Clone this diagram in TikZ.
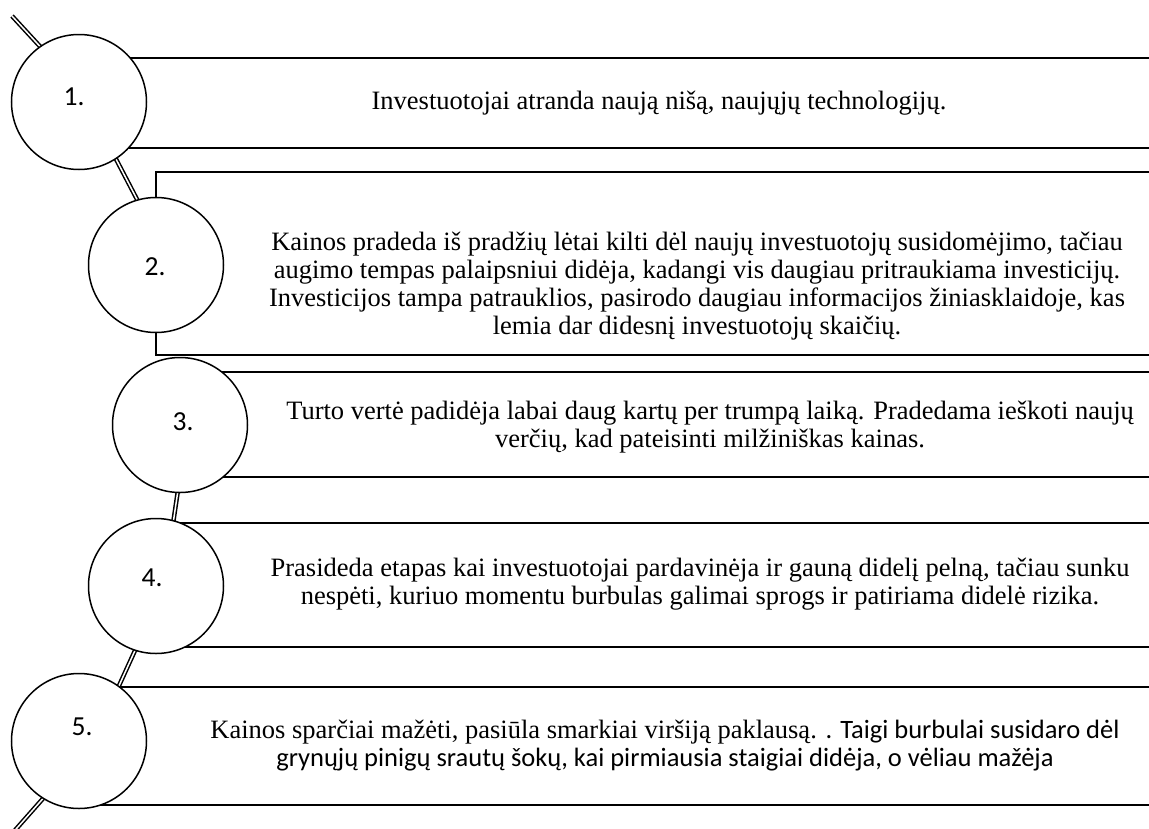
\documentclass[tikz,border=0pt]{standalone}
\usepackage{fontspec}
\setmainfont{Liberation Serif}
\newfontfamily\calib{Carlito}
\pgfdeclarelayer{links}
\pgfdeclarelayer{boxes}
\pgfsetlayers{links,boxes,main}
\begin{document}
\begin{tikzpicture}[x=1pt,y=-1pt,
  stepcircle/.style={circle,draw=black,line width=1.5pt,fill=white,minimum size=135pt,inner sep=0pt,outer sep=0pt},
  stepbox/.style={rectangle,draw=black,line width=1.5pt,fill=white,inner sep=0pt,outer sep=0pt,anchor=north west},
  link/.style={draw=black,line width=1.5pt,double=white,double distance=1.5pt},
  steptext/.style={align=center,inner sep=0pt,font=\fontsize{26.5}{28}\selectfont},
  stepnum/.style={inner sep=0pt,font=\calib\fontsize{27.5}{28}\selectfont}]
\useasboundingbox (0,0) rectangle (1149,828);
\clip (0,0) rectangle (1149,828);

% circles
\node[stepcircle] (c1) at (79,102) {};
\node[stepcircle] (c2) at (156,265) {};
\node[stepcircle] (c3) at (180,425) {};
\node[stepcircle] (c4) at (156,586) {};
\node[stepcircle] (c5) at (79,741) {};
\coordinate (top) at (12,16);
\coordinate (bottom) at (2,845);

% arc segments between the circles, lying behind everything
\begin{pgfonlayer}{links}
\path[link] (top) -- (c1.125);
\path[link] (c1.-57) -- (c2.106);
\path[link] (c3.-92) -- (c4.75);
\path[link] (c4.-108) -- (c5.54);
\path[link] (c5.-122) -- (bottom);
\end{pgfonlayer}

% text boxes
\begin{pgfonlayer}{boxes}
\node[stepbox,minimum width=1092pt,minimum height=90pt] (b1) at (79,58) {};
\node[stepbox,minimum width=1015pt,minimum height=183pt] (b2) at (156,172) {};
\node[stepbox,minimum width=991pt,minimum height=105pt] (b3) at (180,372) {};
\node[stepbox,minimum width=1015pt,minimum height=124pt] (b4) at (156,523) {};
\node[stepbox,minimum width=1092pt,minimum height=118pt] (b5) at (79,687) {};
\end{pgfonlayer}

% step numbers
\node[stepnum] (n1) at (74,97) {1.};
\node[stepnum] (n2) at (155,267) {2.};
\node[stepnum] (n3) at (183,422) {3.};
\node[stepnum] (n4) at (152,578) {4.};
\node[stepnum] (n5) at (82,727) {5.};

% step descriptions
\node[steptext] (t1) at (659,103) {Investuotojai atranda naują nišą, naujųjų technologijų.};
\node[steptext] (t2) at (697,286) {Kainos pradeda iš pradžių lėtai kilti dėl naujų investuotojų susidomėjimo, tačiau\\
augimo tempas palaipsniui didėja, kadangi vis daugiau pritraukiama investicijų.\\
Investicijos tampa patrauklios, pasirodo daugiau informacijos žiniasklaidoje, kas\\
lemia dar didesnį investuotojų skaičių.};
\node[steptext] (t3) at (710,427) {Turto vertė padidėja labai daug kartų per trumpą laiką. Pradedama ieškoti naujų\\
verčių, kad pateisinti milžiniškas kainas.};
\node[steptext] (t4) at (700,584) {Prasideda etapas kai investuotojai pardavinėja ir gauną didelį pelną, tačiau sunku\\
nespėti, kuriuo momentu burbulas galimai sprogs ir patiriama didelė rizika.};
\node[steptext] (t5) at (665,746) {Kainos sparčiai mažėti, pasiūla smarkiai viršiją paklausą. {\calib. Taigi burbulai susidaro dėl}\\
{\calib grynųjų pinigų srautų šokų, kai pirmiausia staigiai didėja, o vėliau mažėja}};
\end{tikzpicture}
\end{document}
